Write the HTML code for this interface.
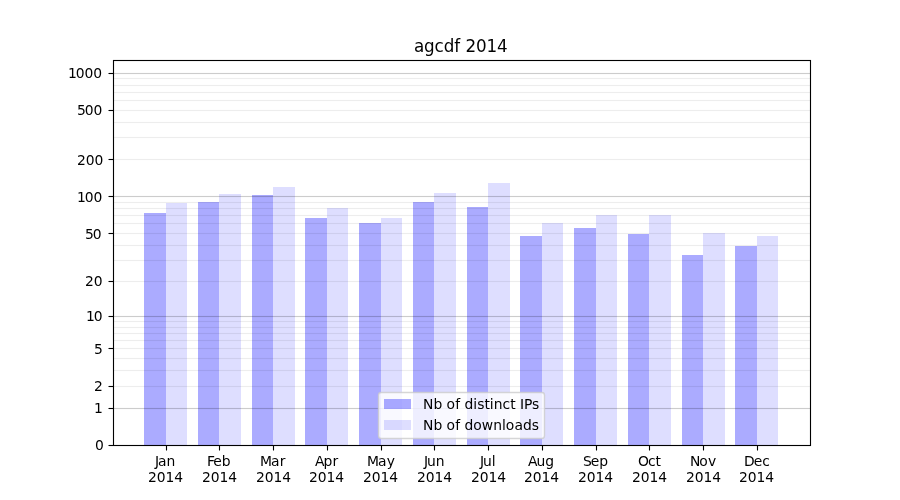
<!DOCTYPE html>
<html lang="en">
<head>
<meta charset="utf-8">
<title>agcdf 2014</title>
<style>
html,body{margin:0;padding:0;background:#fff;overflow:hidden}
svg{display:block}
text{font-family:"DejaVu Sans","Liberation Sans",sans-serif;fill:#000;font-size:13.889px}
.t{font-size:16.76px}
.m{text-anchor:middle}
.e{text-anchor:end}
.d{fill:#00f;fill-opacity:.33}
.l{fill:#00f;fill-opacity:.13}
.g rect{fill:#000}
.gM{fill-opacity:.188}
.gm{fill-opacity:.0664}
.hM{fill-opacity:.0112}
.hm{fill-opacity:.0039}
.k line{stroke:#000;stroke-width:1.111}
</style>
</head>
<body>
<svg width="900" height="500" viewBox="0 0 900 500">
<rect width="900" height="500" fill="#fff"/>
<g shape-rendering="crispEdges">
<rect class="d" x="144" y="213" width="22" height="232"/><rect class="l" x="166" y="203" width="21" height="242"/>
<rect class="d" x="198" y="202" width="21" height="243"/><rect class="l" x="219" y="194" width="22" height="251"/>
<rect class="d" x="252" y="195" width="21" height="250"/><rect class="l" x="273" y="187" width="22" height="258"/>
<rect class="d" x="305" y="218" width="22" height="227"/><rect class="l" x="327" y="208" width="21" height="237"/>
<rect class="d" x="359" y="223" width="22" height="222"/><rect class="l" x="381" y="218" width="21" height="227"/>
<rect class="d" x="413" y="202" width="21" height="243"/><rect class="l" x="434" y="193" width="22" height="252"/>
<rect class="d" x="467" y="207" width="21" height="238"/><rect class="l" x="488" y="183" width="22" height="262"/>
<rect class="d" x="520" y="236" width="22" height="209"/><rect class="l" x="542" y="223" width="21" height="222"/>
<rect class="d" x="574" y="228" width="22" height="217"/><rect class="l" x="596" y="215" width="21" height="230"/>
<rect class="d" x="628" y="234" width="21" height="211"/><rect class="l" x="649" y="215" width="22" height="230"/>
<rect class="d" x="682" y="255" width="21" height="190"/><rect class="l" x="703" y="233" width="22" height="212"/>
<rect class="d" x="735" y="246" width="22" height="199"/><rect class="l" x="757" y="236" width="21" height="209"/>
</g>
<g class="g" shape-rendering="crispEdges">
<rect class="gM" x="113" y="408" width="698" height="1"/><rect class="hM" x="113" y="407" width="698" height="3"/>
<rect class="gm" x="113" y="386" width="698" height="1"/><rect class="hm" x="113" y="385" width="698" height="3"/>
<rect class="gm" x="113" y="370" width="698" height="1"/><rect class="hm" x="113" y="369" width="698" height="3"/>
<rect class="gm" x="113" y="358" width="698" height="1"/><rect class="hm" x="113" y="357" width="698" height="3"/>
<rect class="gm" x="113" y="348" width="698" height="1"/><rect class="hm" x="113" y="347" width="698" height="3"/>
<rect class="gm" x="113" y="340" width="698" height="1"/><rect class="hm" x="113" y="339" width="698" height="3"/>
<rect class="gm" x="113" y="333" width="698" height="1"/><rect class="hm" x="113" y="332" width="698" height="3"/>
<rect class="gm" x="113" y="327" width="698" height="1"/><rect class="hm" x="113" y="326" width="698" height="3"/>
<rect class="gm" x="113" y="321" width="698" height="1"/><rect class="hm" x="113" y="320" width="698" height="3"/>
<rect class="gM" x="113" y="316" width="698" height="1"/><rect class="hM" x="113" y="315" width="698" height="3"/>
<rect class="gm" x="113" y="281" width="698" height="1"/><rect class="hm" x="113" y="280" width="698" height="3"/>
<rect class="gm" x="113" y="260" width="698" height="1"/><rect class="hm" x="113" y="259" width="698" height="3"/>
<rect class="gm" x="113" y="245" width="698" height="1"/><rect class="hm" x="113" y="244" width="698" height="3"/>
<rect class="gm" x="113" y="233" width="698" height="1"/><rect class="hm" x="113" y="232" width="698" height="3"/>
<rect class="gm" x="113" y="223" width="698" height="1"/><rect class="hm" x="113" y="222" width="698" height="3"/>
<rect class="gm" x="113" y="215" width="698" height="1"/><rect class="hm" x="113" y="214" width="698" height="3"/>
<rect class="gm" x="113" y="208" width="698" height="1"/><rect class="hm" x="113" y="207" width="698" height="3"/>
<rect class="gm" x="113" y="202" width="698" height="1"/><rect class="hm" x="113" y="201" width="698" height="3"/>
<rect class="gM" x="113" y="196" width="698" height="1"/><rect class="hM" x="113" y="195" width="698" height="3"/>
<rect class="gm" x="113" y="159" width="698" height="1"/><rect class="hm" x="113" y="158" width="698" height="3"/>
<rect class="gm" x="113" y="137" width="698" height="1"/><rect class="hm" x="113" y="136" width="698" height="3"/>
<rect class="gm" x="113" y="122" width="698" height="1"/><rect class="hm" x="113" y="121" width="698" height="3"/>
<rect class="gm" x="113" y="110" width="698" height="1"/><rect class="hm" x="113" y="109" width="698" height="3"/>
<rect class="gm" x="113" y="100" width="698" height="1"/><rect class="hm" x="113" y="99" width="698" height="3"/>
<rect class="gm" x="113" y="92" width="698" height="1"/><rect class="hm" x="113" y="91" width="698" height="3"/>
<rect class="gm" x="113" y="85" width="698" height="1"/><rect class="hm" x="113" y="84" width="698" height="3"/>
<rect class="gm" x="113" y="78" width="698" height="1"/><rect class="hm" x="113" y="77" width="698" height="3"/>
<rect class="gM" x="113" y="73" width="698" height="1"/><rect class="hM" x="113" y="72" width="698" height="3"/>
</g>
<rect x="113.5" y="60.5" width="697" height="385" fill="none" stroke="#000" stroke-width="1.111"/>
<g class="k">
<line x1="108.5" x2="113.5" y1="445.5" y2="445.5"/><line x1="108.5" x2="113.5" y1="408.5" y2="408.5"/><line x1="108.5" x2="113.5" y1="386.5" y2="386.5"/><line x1="108.5" x2="113.5" y1="348.5" y2="348.5"/><line x1="108.5" x2="113.5" y1="316.5" y2="316.5"/><line x1="108.5" x2="113.5" y1="281.5" y2="281.5"/><line x1="108.5" x2="113.5" y1="233.5" y2="233.5"/><line x1="108.5" x2="113.5" y1="196.5" y2="196.5"/><line x1="108.5" x2="113.5" y1="159.5" y2="159.5"/><line x1="108.5" x2="113.5" y1="110.5" y2="110.5"/><line x1="108.5" x2="113.5" y1="73.5" y2="73.5"/>
<line x1="166.5" x2="166.5" y1="445.5" y2="450.5"/><line x1="219.5" x2="219.5" y1="445.5" y2="450.5"/><line x1="273.5" x2="273.5" y1="445.5" y2="450.5"/><line x1="327.5" x2="327.5" y1="445.5" y2="450.5"/><line x1="381.5" x2="381.5" y1="445.5" y2="450.5"/><line x1="434.5" x2="434.5" y1="445.5" y2="450.5"/><line x1="488.5" x2="488.5" y1="445.5" y2="450.5"/><line x1="542.5" x2="542.5" y1="445.5" y2="450.5"/><line x1="596.5" x2="596.5" y1="445.5" y2="450.5"/><line x1="649.5" x2="649.5" y1="445.5" y2="450.5"/><line x1="703.5" x2="703.5" y1="445.5" y2="450.5"/><line x1="757.5" x2="757.5" y1="445.5" y2="450.5"/>
</g>
<text class="t" x="414 424 434.5 443.75 454.25 460 465.5 476 486.5 497" y="51.7">agcdf 2014</text>
<text x="95" y="450">0</text><text x="94" y="413">1</text><text x="94" y="391">2</text><text x="94" y="354">5</text><text x="86 93.75" y="321">10</text><text x="85 93.75" y="286">20</text><text x="85 92.75" y="239">50</text><text x="77 84.75 93.5" y="202">100</text><text x="77 85.75 94.5" y="165">200</text><text x="77 84.75 93.5" y="115">500</text><text x="68 75.75 84.5 93.25" y="78">1000</text>
<text x="155 158 166.5" y="466">Jan</text><text x="148 156.75 165.5 174.25" y="482">2014</text>
<text x="207 213.25 221.75" y="466">Feb</text><text x="202 210.75 219.5 228.25" y="482">2014</text>
<text x="260 271 279.75" y="466">Mar</text><text x="256 264.75 273.5 282.25" y="482">2014</text>
<text x="315 323.5 332.5" y="466">Apr</text><text x="309 317.75 326.5 335.25" y="482">2014</text>
<text x="367 378 386.75" y="466">May</text><text x="363 371.75 380.5 389.25" y="482">2014</text>
<text x="424 427 435.75" y="466">Jun</text><text x="417 425.75 434.5 443.25" y="482">2014</text>
<text x="480 483 491.75" y="466">Jul</text><text x="471 479.75 488.5 497.25" y="482">2014</text>
<text x="528 536.5 545.25" y="466">Aug</text><text x="524 532.75 541.5 550.25" y="482">2014</text>
<text x="583 590.75 599.25" y="466">Sep</text><text x="578 586.75 595.5 604.25" y="482">2014</text>
<text x="638 648 655.5" y="466">Oct</text><text x="632 640.75 649.5 658.25" y="482">2014</text>
<text x="690 699.25 708" y="466">Nov</text><text x="686 694.75 703.5 712.25" y="482">2014</text>
<text x="744 753.75 762.25" y="466">Dec</text><text x="739 747.75 756.5 765.25" y="482">2014</text>
<rect x="378.5" y="392.5" width="166" height="46" rx="2.78" ry="2.78" fill="#fff" fill-opacity=".8" stroke="#ccc" stroke-opacity=".8" stroke-width="1.389"/>
<g shape-rendering="crispEdges"><rect class="d" x="384" y="399" width="27" height="10"/><rect class="l" x="384" y="420" width="27" height="10"/></g>
<text x="423 433.5 442.25 446.5 455.25 460 464.5 473.25 477.25 484.5 489.75 493.75 502.5 510.25 515.5 520 524 532" y="409">Nb of distinct IPs</text>
<text x="423 433.5 442.25 446.5 455.25 460 464.5 473.25 481.75 493.25 502 505.75 514.5 523 531.75" y="430">Nb of downloads</text>
</svg>
</body>
</html>
